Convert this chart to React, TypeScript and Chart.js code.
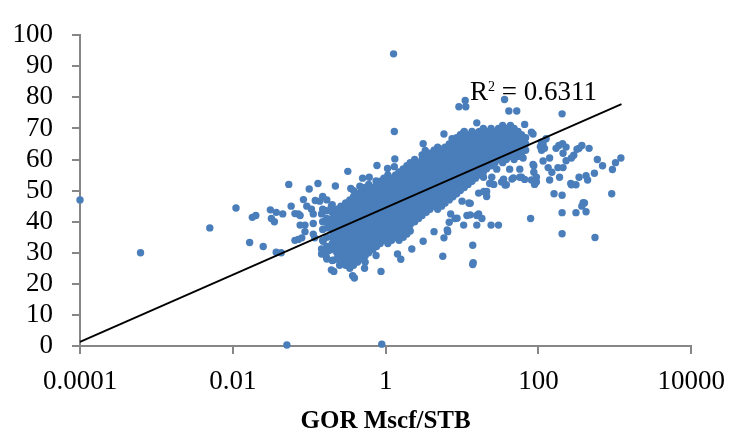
import { useEffect, useRef } from "react";
import { Chart, registerables } from "chart.js";

Chart.register(...registerables);

// ---------- data ----------
const xTickValues = [0.0001, 0.01, 1, 100, 10000];
const xTickLabels = ["0.0001", "0.01", "1", "100", "10000"];
const yTickValues = [0, 10, 20, 30, 40, 50, 60, 70, 80, 90, 100];

// dense core of the cloud: [GOR, list of y values]
const coreColumns: [number, number[]][] = [
  [0.15, [30, 34, 37.5, 40, 44]],
  [0.17, [28, 32, 35, 38, 41, 43.5, 47]],
  [0.2, [27.5, 31, 33, 35, 37, 39, 41, 43, 45.5]],
  [0.23, [28, 30, 32, 34, 36, 38, 40, 42, 44]],
  [0.26, [27, 29, 31, 33, 35, 37, 39, 41, 43, 45]],
  [0.3, [26, 28, 30, 32, 34, 36, 38, 40, 42, 44, 46]],
  [0.34, [25, 27, 29, 31, 33, 35, 37, 39, 41, 43, 45, 47]],
  [0.38, [26, 28, 30, 32, 34, 36, 38, 40, 42, 44, 46, 48, 50]],
  [0.43, [27, 29, 31, 33, 35, 37, 39, 41, 43, 45, 47, 49]],
  [0.48, [28, 30, 32, 34, 36, 38, 40, 42, 44, 46, 48, 50]],
  [0.54, [27, 29, 31, 33, 35, 37, 39, 41, 43, 45, 47, 49, 51]],
  [0.6, [30, 32, 34, 36, 38, 40, 42, 44, 46, 48, 50, 52]],
  [0.68, [31, 33, 35, 37, 39, 41, 43, 45, 47, 49, 51]],
  [0.76, [32, 34, 36, 38, 40, 42, 44, 46, 48, 50, 52]],
  [0.85, [33, 35, 37, 39, 41, 43, 45, 47, 49, 51, 53]],
  [0.95, [34, 36, 38, 40, 42, 44, 46, 48, 50, 52, 54]],
  [1.07, [33, 35, 37, 39, 41, 43, 45, 47, 49, 51, 53, 55]],
  [1.2, [34, 36, 38, 40, 42, 44, 46, 48, 50, 52, 54]],
  [1.35, [35, 37, 39, 41, 43, 45, 47, 49, 51, 53, 55]],
  [1.5, [34, 36, 38, 40, 42, 44, 46, 48, 50, 52, 54, 56]],
  [1.7, [35, 37, 39, 41, 43, 45, 47, 49, 51, 53, 55, 57]],
  [1.9, [36, 38, 40, 42, 44, 46, 48, 50, 52, 54, 56, 58]],
  [2.1, [37, 39, 41, 43, 45, 47, 49, 51, 53, 55, 57, 59]],
  [2.4, [40, 42, 44, 46, 48, 50, 52, 54, 56, 58, 60]],
  [2.7, [41, 43, 45, 47, 49, 51, 53, 55, 57, 59]],
  [3.0, [42, 44, 46, 48, 50, 52, 54, 56, 58, 60]],
  [3.4, [43, 45, 47, 49, 51, 53, 55, 57, 59, 61]],
  [3.8, [44, 46, 48, 50, 52, 54, 56, 58, 60, 62]],
  [4.3, [45, 47, 49, 51, 53, 55, 57, 59, 61, 63]],
  [4.8, [44, 46, 48, 50, 52, 54, 56, 58, 60, 62, 64]],
  [5.4, [45, 47, 49, 51, 53, 55, 57, 59, 61, 63]],
  [6, [46, 48, 50, 52, 54, 56, 58, 60, 62, 64]],
  [6.8, [47, 49, 51, 53, 55, 57, 59, 61, 63, 65]],
  [7.6, [48, 50, 52, 54, 56, 58, 60, 62, 64, 66]],
  [8.5, [49, 51, 53, 55, 57, 59, 61, 63, 65, 67]],
  [9.5, [50, 52, 54, 56, 58, 60, 62, 64, 66, 68]],
  [10.7, [51, 53, 55, 57, 59, 61, 63, 65, 67, 69]],
  [12, [52, 54, 56, 58, 60, 62, 64, 66, 68]],
  [13.5, [53, 55, 57, 59, 61, 63, 65, 67, 69]],
  [15, [54, 56, 58, 60, 62, 64, 66, 68]],
  [17, [55, 57, 59, 61, 63, 65, 67, 69]],
  [19, [56, 58, 60, 62, 64, 66, 68, 70]],
  [21, [57, 59, 61, 63, 65, 67, 69]],
  [24, [58, 60, 62, 64, 66, 68, 70]],
  [27, [59, 61, 63, 65, 67, 69]],
  [30, [60, 62, 64, 66, 68, 70]],
  [34, [59, 61, 63, 65, 67, 69, 71]],
  [38, [60, 62, 64, 66, 68, 70]],
  [43, [61, 63, 65, 67, 69, 71]],
  [48, [60, 62, 64, 66, 68, 70]],
  [54, [61, 63, 65, 67, 69]],
  [60, [62, 64, 66, 68]],
  [68, [63, 65, 67]],
];

// scattered points around the core: [GOR, y]
const scatterPoints: [number, number][] = [
  [0.0001, 47], [0.00062, 30], [0.005, 38], [0.011, 44.4], [0.0166, 33.3],
  [0.018, 41.4], [0.02, 42], [0.025, 32], [0.031, 43.8], [0.032, 41],
  [0.035, 40], [0.037, 43], [0.037, 30.2], [0.043, 30], [0.045, 42.5],
  [0.051, 0.3], [0.054, 52], [0.058, 45], [0.065, 42.6], [0.065, 34],
  [0.072, 42.5], [0.072, 34.3], [0.076, 38.9], [0.076, 42], [0.08, 34.8],
  [0.084, 47.1], [0.088, 36.8], [0.088, 38.9], [0.093, 45], [0.1, 50.5],
  [0.107, 44], [0.113, 42.5], [0.113, 39.4], [0.113, 36], [0.118, 34.8],
  [0.12, 46.8], [0.13, 52.3], [0.137, 46.6], [0.145, 42.5], [0.145, 31.2],
  [0.145, 29.6], [0.15, 48.1], [0.152, 33.7], [0.157, 43.5], [0.168, 28.6],
  [0.177, 39.9], [0.177, 30.6], [0.195, 45], [0.195, 24.5], [0.205, 27.6],
  [0.21, 24], [0.22, 51.5], [0.25, 26], [0.32, 56.2], [0.35, 50.7],
  [0.37, 22.6], [0.39, 21.9], [0.46, 51.4], [0.5, 54], [0.53, 25],
  [0.61, 54.3], [0.75, 53.1], [0.75, 29.1], [0.77, 58.1], [0.79, 52.5],
  [0.87, 24], [0.89, 0.6], [1.06, 57.1], [1.12, 53.5], [1.27, 94],
  [1.3, 69], [1.3, 57.7], [1.32, 60.2], [1.43, 29.6], [1.58, 27.9],
  [1.75, 56.2], [2.2, 31.2], [2.24, 56.9], [3.0, 61.5], [3.1, 65.1],
  [3.3, 62.9], [3.1, 33.7], [4.3, 36.8], [4.3, 60.5], [5.6, 28.9],
  [5.8, 68.2], [5.8, 63.6], [5.8, 34.8], [6.5, 36.8], [6.4, 37.3],
  [6.8, 39.8], [7.1, 42.5], [7.4, 66.7], [8.1, 41], [8.6, 41.1],
  [9.1, 77], [11, 79], [11.2, 77], [10, 46.6], [10.5, 38.9],
  [10.5, 68.7], [11.6, 42], [12.3, 46], [12.8, 42.2], [12.8, 45.9],
  [13.8, 32.4], [13.8, 26.2], [14, 26.8], [15.6, 38.9], [15.6, 42],
  [15.6, 71.8], [16.5, 42.5], [16.5, 49.2], [16.5, 68.9], [18.2, 41],
  [19.1, 54.3], [19.3, 49.7], [21, 49.7], [21, 48.1], [23, 52.3],
  [24, 38.9], [24.5, 54.3], [26, 52], [28.5, 56.9], [30, 38.9],
  [33, 52.8], [35, 53.7], [36, 79.3], [36.6, 69.8], [36.6, 51.8],
  [38, 51.9], [41, 75.6], [42, 56.9], [45, 53.7], [47, 54.1],
  [52, 75.6], [57, 56.9], [57, 54.3], [60, 54.3], [63, 60.5],
  [66, 71.3], [66, 53.6], [79, 41], [81, 68.8], [81, 53.4],
  [85, 58.4], [85, 68.2], [87, 55.9], [87, 58], [89, 52],
  [94, 54.3], [94, 52.8], [106, 64.1], [109, 65.6], [110, 63],
  [115, 65], [115, 59.5], [120, 63.6], [126, 66.7], [134, 57.4],
  [140, 53.4], [140, 60.5], [150, 55.9], [160, 49], [170, 63.6],
  [180, 57.4], [185, 64.5], [189, 54.3], [204, 74.7], [204, 48.5],
  [204, 42.9], [204, 36.1], [207, 65.1], [210, 57.4], [210, 62],
  [230, 59.6], [230, 64], [265, 52.3], [270, 51.9], [270, 60.5],
  [290, 61.4], [310, 51.9], [310, 42.9], [320, 63.3], [340, 54.3],
  [340, 63.6], [370, 64.5], [370, 45], [385, 46.1], [400, 46],
  [420, 43.2], [420, 54.8], [440, 53.4], [460, 63.6], [540, 55.6],
  [550, 34.9], [590, 60], [690, 58], [910, 49], [930, 56.8],
  [1020, 59], [1200, 60.5],
];

// logarithmic trend line end points
const trendGor = [0.0001, 1222];
const trendY = [1.33, 77.8];

const r2Value = "0.6311";
const r2AnchorGor = 12.7;
const r2AnchorY = 79.3;

const FONT = '"Liberation Serif", "Times New Roman", serif';

const r2Plugin = {
  id: "r2Label",
  afterDatasetsDraw(chart: any) {
    const { ctx, scales } = chart;
    const x = scales.x.getPixelForValue(r2AnchorGor);
    const y = scales.y.getPixelForValue(r2AnchorY);
    ctx.save();
    ctx.fillStyle = "#000";
    ctx.textBaseline = "alphabetic";
    ctx.textAlign = "left";
    ctx.font = `27px ${FONT}`;
    ctx.fillText("R", x, y);
    const wR = ctx.measureText("R").width;
    ctx.font = `14px ${FONT}`;
    ctx.fillText("2", x + wR, y - 9);
    const w2 = ctx.measureText("2").width;
    ctx.font = `27px ${FONT}`;
    ctx.fillText(" = " + r2Value, x + wR + w2, y);
    ctx.restore();
  },
};

export default function App() {
  const ref = useRef<HTMLCanvasElement | null>(null);

  useEffect(() => {
    if (!ref.current) return;
    const points: { x: number; y: number }[] = [];
    coreColumns.forEach(([g, ys]) => ys.forEach((v) => points.push({ x: g, y: v })));
    scatterPoints.forEach(([g, v]) => points.push({ x: g, y: v }));
    const trend = trendGor.map((g, i) => ({ x: g, y: trendY[i] }));

    const axisGrid = {
      drawOnChartArea: false,
      drawTicks: true,
      tickLength: 8,
      color: "#868686",
      lineWidth: 2,
    };
    const axisBorder = { color: "#868686", width: 2 };

    const chart = new Chart(ref.current, {
      type: "scatter",
      data: {
        datasets: [
          {
            type: "line",
            data: trend,
            borderColor: "#000",
            borderWidth: 1.8,
            pointRadius: 0,
            fill: false,
            order: 0,
            clip: false,
          } as any,
          {
            type: "scatter",
            data: points,
            backgroundColor: "#4a7ebb",
            borderWidth: 0,
            pointRadius: 3.7,
            pointHoverRadius: 3.7,
            order: 1,
            clip: false,
          } as any,
        ],
      },
      options: {
        animation: false,
        responsive: false,
        events: [],
        layout: { padding: { top: 22, right: 40, bottom: 0, left: 0 } },
        plugins: {
          legend: { display: false },
          tooltip: { enabled: false },
        },
        scales: {
          x: {
            type: "logarithmic",
            min: 0.0001,
            max: 10000,
            afterBuildTicks: (s: any) => {
              s.ticks = xTickValues.map((v) => ({ value: v }));
            },
            afterFit: (s: any) => {
              s.height = 85;
            },
            ticks: {
              autoSkip: false,
              maxRotation: 0,
              minRotation: 0,
              padding: 12,
              color: "#000",
              font: { family: FONT, size: 27 },
              callback: (_v: any, i: number) => xTickLabels[i],
            },
            grid: axisGrid,
            border: axisBorder,
            title: {
              display: true,
              text: "GOR Mscf/STB",
              color: "#000",
              font: { family: FONT, size: 25, weight: "bold", lineHeight: 1 },
              padding: { top: 0, bottom: -3 },
            },
          } as any,
          y: {
            type: "linear",
            min: 0,
            max: 100,
            afterBuildTicks: (s: any) => {
              s.ticks = yTickValues.map((v) => ({ value: v }));
            },
            afterFit: (s: any) => {
              s.width = 80;
            },
            ticks: {
              autoSkip: false,
              padding: 19,
              color: "#000",
              font: { family: FONT, size: 27 },
              callback: (v: any) => String(v),
            },
            grid: axisGrid,
            border: axisBorder,
          } as any,
        },
      },
      plugins: [r2Plugin],
    });
    return () => chart.destroy();
  }, []);

  return (
    <div style={{ position: "absolute", left: 0, top: 0, width: 737, height: 431, background: "#fff" }}>
      <canvas ref={ref} width={737} height={431} style={{ display: "block" }} />
    </div>
  );
}
